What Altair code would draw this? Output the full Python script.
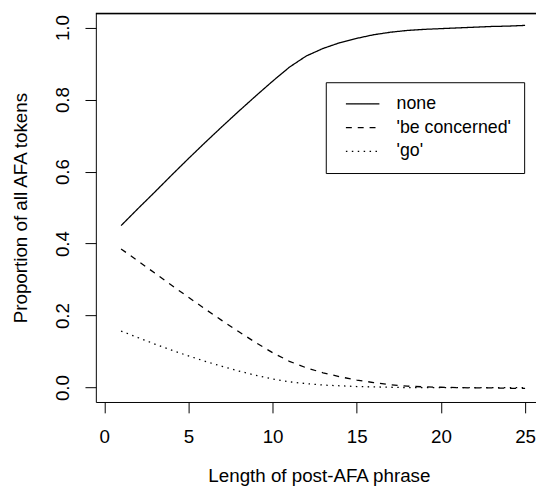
import altair as alt
import pandas as pd

lengths = list(range(1, 26))
none_vals = [0.450, 0.497, 0.543, 0.590, 0.636, 0.681, 0.725, 0.768, 0.810, 0.851,
             0.890, 0.921, 0.942, 0.958, 0.970, 0.980, 0.987, 0.992, 0.995, 0.997,
             0.999, 1.001, 1.003, 1.004, 1.006]
concerned_vals = [0.385, 0.352, 0.318, 0.284, 0.251, 0.218, 0.186, 0.155, 0.125, 0.097,
                  0.073, 0.055, 0.041, 0.030, 0.021, 0.014, 0.008, 0.004, 0.002, 0.001,
                  0.000, -0.001, -0.001, -0.002, -0.002]
go_vals = [0.157, 0.139, 0.121, 0.104, 0.088, 0.073, 0.059, 0.046, 0.034, 0.024,
           0.016, 0.011, 0.007, 0.005, 0.003, 0.002, 0.001, 0.000, 0.000, 0.000,
           0.000, 0.000, 0.000, 0.000, 0.000]
series_names = ["none", "'be concerned'", "'go'"]
x_ticks = [0, 5, 10, 15, 20, 25]
y_ticks = [0.0, 0.2, 0.4, 0.6, 0.8, 1.0]

rows = []
for name, vals in zip(series_names, [none_vals, concerned_vals, go_vals]):
    for x, y in zip(lengths, vals):
        rows.append({"length": x, "prop": y, "series": name})
df = pd.DataFrame(rows)

FONT = "Liberation Sans"
FS = 19
W, H = 452, 394
x_scale = alt.Scale(domain=[-0.5, 26.0], nice=False, zero=False)
y_scale = alt.Scale(domain=[-0.04, 1.04], nice=False, zero=False)

x_enc = alt.X(
    "length:Q",
    scale=x_scale,
    axis=alt.Axis(
        values=x_ticks, title="Length of post-AFA phrase", grid=False, domain=False,
        tickSize=11, tickColor="black",
        labelPadding=15, labelBaseline="top", labelFontSize=FS, labelFont=FONT,
        labelColor="black", labelFlush=False, labelOverlap=False,
        titleFontSize=FS, titleFont=FONT, titleFontWeight="normal", titleColor="black",
        titleX=226, titleY=81, titleBaseline="alphabetic", titleAlign="center",
    ),
)
y_enc = alt.Y(
    "prop:Q",
    scale=y_scale,
    axis=alt.Axis(
        values=y_ticks, format=".1f", title="Proportion of all AFA tokens", grid=False,
        domain=False, tickSize=11, tickColor="black",
        labelAngle=-90, labelAlign="center", labelBaseline="alphabetic", labelPadding=17,
        labelFontSize=FS, labelFont=FONT, labelColor="black",
        labelFlush=False, labelOverlap=False,
        titleFontSize=FS, titleFont=FONT, titleFontWeight="normal", titleColor="black",
        titleAngle=-90, titleX=-70.5, titleY=197, titleBaseline="alphabetic", titleAlign="center",
    ),
)

lines = alt.Chart(df).mark_line(color="black", strokeWidth=1.3, strokeCap="butt").encode(
    x=x_enc,
    y=y_enc,
    strokeDash=alt.StrokeDash(
        "series:N",
        scale=alt.Scale(domain=series_names, range=[[1, 0], [6, 6], [1.5, 4.5]]),
        legend=alt.Legend(
            orient="none", legendX=233, legendY=70, title=None,
            fillColor="white", strokeColor="black", padding=13,
            symbolType="M-3,0H3", symbolSize=128, symbolStrokeWidth=1.3,
            symbolStrokeColor="black", symbolOffset=15.35,
            labelFontSize=18, labelFont=FONT,
            labelColor="black", labelOffset=25.35, rowPadding=6,
        ),
    ),
    detail="series:N",
)

frame_df = pd.DataFrame({"edge": ["top"]})
top_edge = alt.Chart(frame_df).mark_rule(color="black", strokeWidth=1.4).encode(
    x=alt.value(0), x2=alt.value(W), y=alt.value(0.3)
)

chart = alt.layer(lines, top_edge).properties(
    width=W, height=H,
    autosize=alt.AutoSizeParams(type="none"),
    padding={"left": 89, "top": 2, "right": -6, "bottom": 90},
).configure_view(stroke="black", strokeWidth=1)

chart.save("out.html", embed_options={"renderer": "svg", "actions": False})
